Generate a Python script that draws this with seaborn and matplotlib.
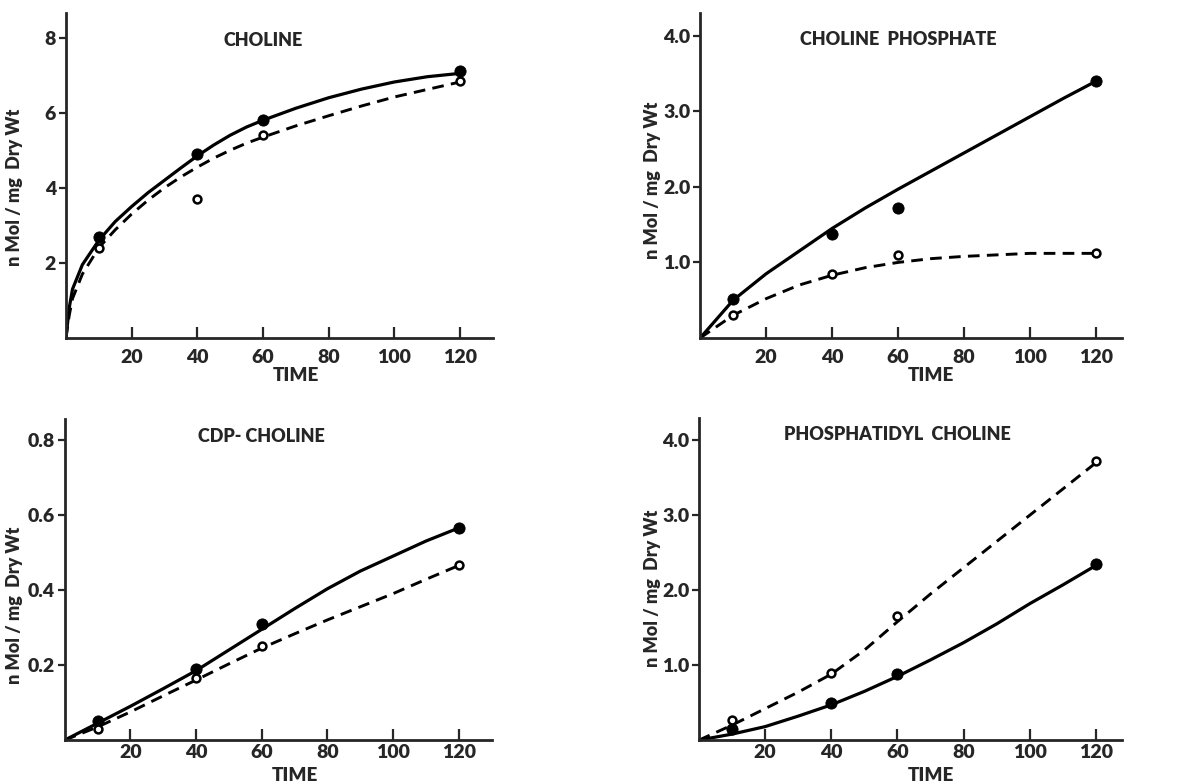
import pandas as pd
import seaborn as sns
import matplotlib.pyplot as plt

# measured points (time in min)
t_pts = [10, 40, 60, 120]

choline_filled = [2.7, 4.9, 5.8, 7.1]
choline_open = [2.4, 3.7, 5.4, 6.85]
cholp_filled = [0.52, 1.38, 1.72, 3.4]
cholp_open = [0.3, 0.85, 1.1, 1.12]
cdp_filled = [0.05, 0.19, 0.31, 0.565]
cdp_open = [0.03, 0.165, 0.25, 0.465]
pc_filled = [0.15, 0.5, 0.88, 2.35]
pc_open = [0.27, 0.9, 1.65, 3.72]

# hand-drawn fitted curves
t_fit1 = [0, 1, 2, 5, 10, 15, 20, 25, 30, 35, 40, 45, 50, 55, 60, 70, 80, 90, 100, 110, 120]
choline_solid = [0, 0.8, 1.3, 1.95, 2.6, 3.1, 3.5, 3.87, 4.2, 4.53, 4.85, 5.14, 5.4, 5.62, 5.8,
                 6.12, 6.4, 6.63, 6.82, 6.96, 7.05]
choline_dash = [0, 0.6, 1.05, 1.7, 2.4, 2.88, 3.3, 3.67, 4.0, 4.29, 4.55, 4.79, 5.0, 5.19, 5.35,
                5.65, 5.92, 6.18, 6.42, 6.62, 6.82]

t_fit = [0, 10, 20, 30, 40, 50, 60, 70, 80, 90, 100, 110, 120]
cholp_solid = [0, 0.5, 0.85, 1.15, 1.45, 1.72, 1.97, 2.21, 2.45, 2.69, 2.93, 3.17, 3.4]
cholp_dash = [0, 0.3, 0.52, 0.7, 0.83, 0.93, 1.0, 1.05, 1.08, 1.1, 1.12, 1.12, 1.12]
cdp_solid = [0, 0.045, 0.09, 0.137, 0.185, 0.24, 0.295, 0.35, 0.403, 0.45, 0.49, 0.53, 0.565]
cdp_dash = [0, 0.035, 0.075, 0.118, 0.16, 0.203, 0.245, 0.283, 0.32, 0.355, 0.39, 0.428, 0.465]
pc_solid = [0, 0.08, 0.18, 0.32, 0.47, 0.65, 0.85, 1.07, 1.3, 1.55, 1.82, 2.07, 2.33]
pc_dash = [0, 0.2, 0.42, 0.64, 0.88, 1.2, 1.58, 1.95, 2.3, 2.65, 3.0, 3.35, 3.7]

panels = [
    ("CHOLINE", t_fit1, choline_solid, choline_dash, choline_filled, choline_open,
     [2, 4, 6, 8], ["2", "4", "6", "8"], 8.65, 130),
    ("CHOLINE  PHOSPHATE", t_fit, cholp_solid, cholp_dash, cholp_filled, cholp_open,
     [1, 2, 3, 4], ["1.0", "2.0", "3.0", "4.0"], 4.3, 128),
    ("CDP- CHOLINE", t_fit, cdp_solid, cdp_dash, cdp_filled, cdp_open,
     [0.2, 0.4, 0.6, 0.8], ["0.2", "0.4", "0.6", "0.8"], 0.856, 130),
    ("PHOSPHATIDYL  CHOLINE", t_fit, pc_solid, pc_dash, pc_filled, pc_open,
     [1, 2, 3, 4], ["1.0", "2.0", "3.0", "4.0"], 4.3, 128),
]
positions = [
    [0.055, 0.569, 0.356, 0.414],
    [0.584, 0.569, 0.352, 0.414],
    [0.054, 0.056, 0.356, 0.410],
    [0.583, 0.056, 0.353, 0.411],
]
title_y = [0.915, 0.92, 0.944, 0.947]
ylab_xy = [(-0.10, 0.465), (-0.092, 0.486), (-0.098, 0.42), (-0.09, 0.47)]
xlab_y = [-0.089, -0.089, -0.083, -0.083]
xpad = [8, 8, 3, 3]

sns.set_style("ticks")
plt.rcParams['font.family'] = ['Lato', 'DejaVu Sans']
W = 'heavy'

fig = plt.figure(figsize=(11.99, 7.84), dpi=100)

for i, (title, tf, solid, dash, filled, opn, yt, ytl, ymax, xmax) in enumerate(panels):
    ax = fig.add_axes(positions[i])
    fit = pd.DataFrame({"t": tf, "solid": solid, "dash": dash})
    pts = pd.DataFrame({"t": t_pts, "filled": filled, "open": opn})
    sns.lineplot(data=fit, x="t", y="solid", color="black", lw=2.3, ax=ax)
    sns.lineplot(data=fit, x="t", y="dash", color="black", lw=2.1, ax=ax,
                 linestyle=(0, (4, 2.5)))
    sns.scatterplot(data=pts, x="t", y="filled", color="black", s=65,
                    edgecolor="black", zorder=5, ax=ax)
    sns.scatterplot(data=pts, x="t", y="open", color="white", s=32,
                    edgecolor="black", linewidth=1.8, zorder=5, ax=ax)
    ax.set_xlim(0, xmax)
    ax.set_ylim(0, ymax)
    ax.set_xticks([20, 40, 60, 80, 100, 120])
    ax.set_yticks(yt)
    ax.set_yticklabels(ytl)
    ax.tick_params(axis='x', direction='in', length=8, width=1.6, labelsize=14, pad=xpad[i])
    ax.tick_params(axis='y', direction='out', length=5, width=1.6, labelsize=14, pad=2)
    for lab in ax.get_xticklabels() + ax.get_yticklabels():
        lab.set_fontweight(W)
    for sp in ['top', 'right']:
        ax.spines[sp].set_visible(False)
    for sp in ['left', 'bottom']:
        ax.spines[sp].set_linewidth(2.0)
    ax.set_xlabel("TIME", fontsize=13.5, fontweight=W)
    ax.xaxis.set_label_coords(70 / xmax, xlab_y[i])
    ax.set_ylabel("n Mol / mg  Dry Wt", fontsize=13, fontweight=W)
    ax.yaxis.set_label_coords(*ylab_xy[i])
    ax.text(60 / xmax, title_y[i], title, transform=ax.transAxes, ha='center',
            va='center', fontsize=13, fontweight=W)

fig.savefig("out.png", dpi=100)
